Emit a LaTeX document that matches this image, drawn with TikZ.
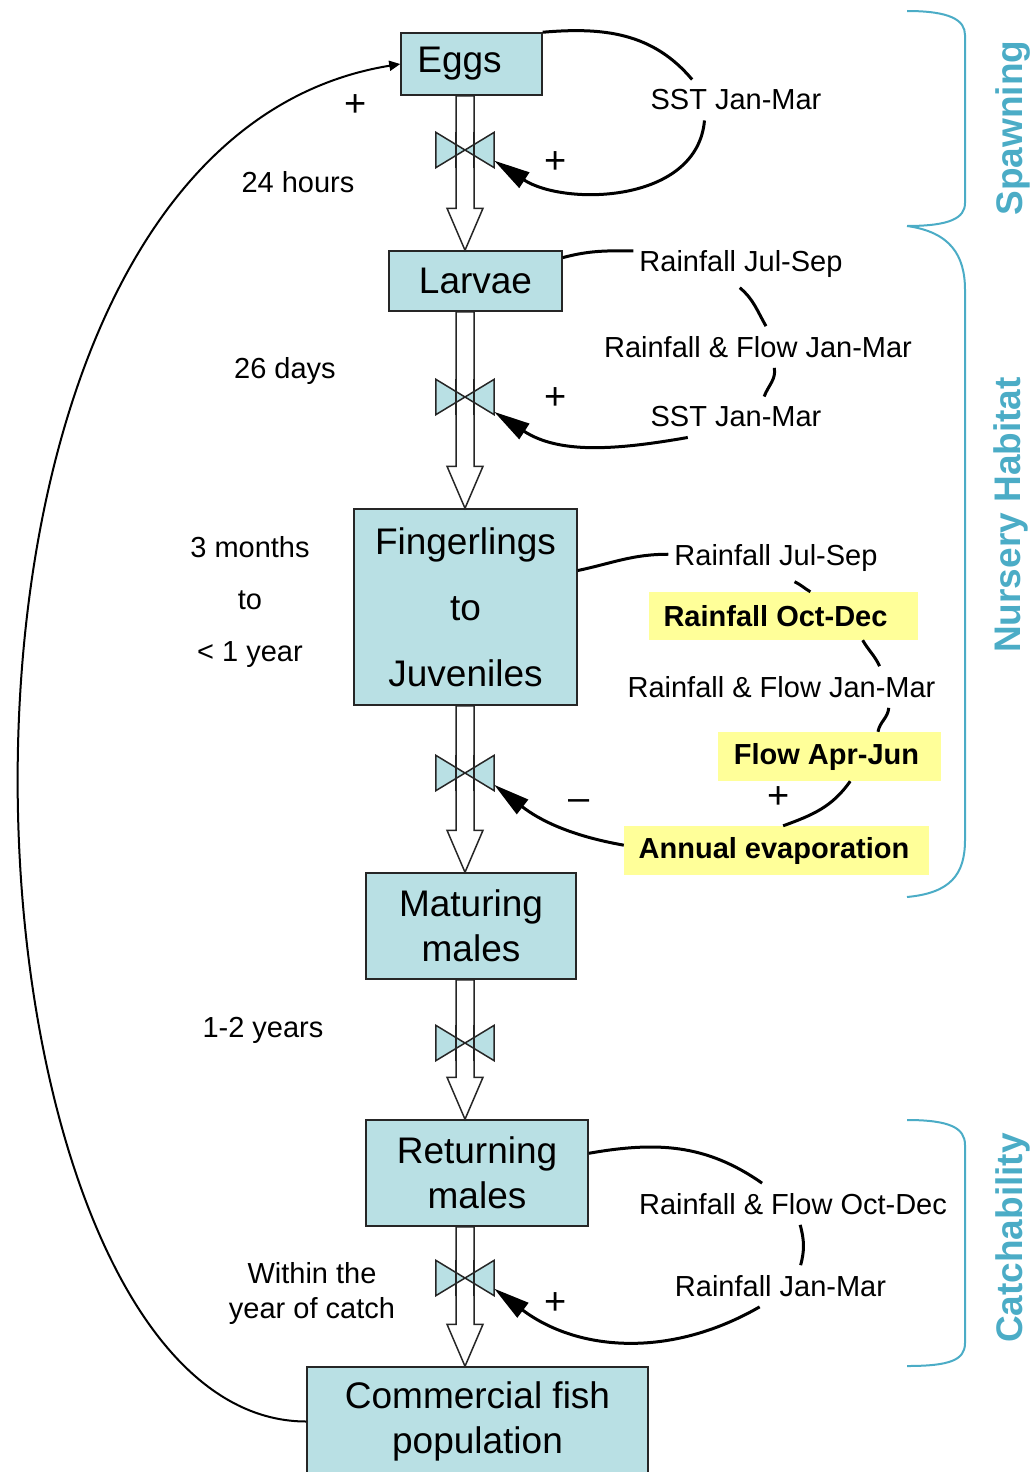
\documentclass[tikz,border=0pt]{standalone}
\usepackage{fontspec}
\setmainfont{Liberation Sans}
\usetikzlibrary{arrows.meta}
\definecolor{fishbox}{HTML}{B9E0E4}
\definecolor{hiyellow}{HTML}{FFFF99}
\definecolor{zoneteal}{HTML}{4BACC6}
\tikzset{
  stock/.style={draw=black!85, line width=1.5pt, fill=fishbox, inner sep=0pt, align=center, font=\fontsize{37}{45}\selectfont},
  vnode/.style={inner sep=0pt, minimum width=58pt, minimum height=35pt},
  pipe/.style={draw=black!85, line width=1.5pt, fill=white},
  valve/.style={draw=black!85, line width=1.5pt, fill=fishbox, line join=miter},
  lbl/.style={inner xsep=6pt, inner ysep=10pt, font=\fontsize{29}{35}\selectfont},
  sign/.style={inner sep=2pt, font=\fontsize{38}{40}\selectfont},
  hi/.style={fill=hiyellow, inner sep=0pt, font=\fontsize{29}{35}\selectfont\bfseries},
  zone/.style={text=zoneteal, rotate=90, font=\fontsize{37}{44}\selectfont\bfseries},
  brace/.style={draw=zoneteal, line width=2pt},
  link/.style={line width=3pt},
  infl/.style={link, -{Triangle[length=36pt, width=18pt]}},
  back/.style={line width=2pt, -{Triangle[length=11pt, width=10pt]}},
}
\begin{document}
\begin{tikzpicture}[x=1pt, y=1pt]
    \useasboundingbox (0,0) rectangle (1032,-1472);
    \node[stock, minimum width=141pt, minimum height=62pt] (eggs) at (471.5,-64) {\hspace*{-24pt}Eggs};
    \node[stock, minimum width=173pt, minimum height=60pt] (larvae) at (475.5,-281) {Larvae};
    \node[stock, minimum width=223pt, minimum height=196pt, font=\fontsize{37}{66}\selectfont] (fing) at (465.5,-607) {Fingerlings\\to\\Juveniles};
    \node[stock, minimum width=210pt, minimum height=106pt] (mature) at (471,-926) {Maturing\\males};
    \node[stock, minimum width=222pt, minimum height=106pt] (return) at (477,-1173) {Returning\\males};
    \node[stock, minimum width=341pt, minimum height=109pt] (catch) at (477.5,-1421.5) {Commercial fish\\population};
    \foreach \a/\b/\i/\vy in {eggs/larvae/1/150, larvae/fing/2/397, fing/mature/3/773, mature/return/4/1043, return/catch/5/1278}{
        \node[vnode] (v\i) at (465,-\vy) {};
        \draw[pipe] ([xshift=-9pt]v\i |- \a.south) -| ([xshift=9pt, yshift=42pt]v\i |- \b.north) -- ++(9,0) -- (v\i |- \b.north) -- ++(-18,42) -- ++(9,0) -- cycle;
        \draw[valve] (v\i.north west) -- (v\i.south east) -- (v\i.north east) -- (v\i.south west) -- cycle;
        \draw[pipe, fill=none] ([xshift=-9pt]v\i.north) -- ([xshift=-9pt]v\i.south) ([xshift=9pt]v\i.north) -- ([xshift=9pt]v\i.south);
    }
    \node[lbl] (sstA) at (736,-100) {SST Jan-Mar};
    \node[lbl] (rjsA) at (741,-264) {Rainfall Jul-Sep};
    \node[lbl] (rfjA) at (758,-347) {Rainfall \& Flow Jan-Mar};
    \node[lbl] (sstB) at (736,-417) {SST Jan-Mar};
    \node[lbl] (rjsB) at (776,-558) {Rainfall Jul-Sep};
    \node[hi, minimum width=269pt, minimum height=48pt] (rodB) at (783.5,-616) {\hspace*{-16pt}Rainfall Oct-Dec};
    \node[lbl] (rfjB) at (781.5,-687) {Rainfall \& Flow Jan-Mar};
    \node[hi, minimum width=223pt, minimum height=49pt] (fajB) at (829.5,-756.5) {\hspace*{-6pt}Flow Apr-Jun};
    \node[hi, minimum width=305pt, minimum height=49pt] (evapB) at (776.5,-850.5) {\hspace*{-5pt}Annual evaporation};
    \node[lbl] (rfoC) at (793,-1204) {Rainfall \& Flow Oct-Dec};
    \node[lbl] (rjmC) at (780.5,-1286) {Rainfall Jan-Mar};
    \node[lbl] (hrs) at (298,-182) {24 hours};
    \node[lbl] (days) at (285,-371) {26 days};
    \node[lbl, align=center, font=\fontsize{29}{52}\selectfont] (months) at (250,-602) {3 months\\to\\< 1 year};
    \node[lbl] (years) at (263,-1030) {1-2 years};
    \node[lbl, align=center] (within) at (312,-1293) {Within the\\year of catch};
    \node[sign] (pl1) at (356,-106) {+};
    \node[sign] (pl2) at (556,-163) {+};
    \node[sign] (pl3) at (556,-399) {+};
    \node[sign] (mi4) at (579,-805) {–};
    \node[sign] (pl4) at (779,-798) {+};
    \node[sign] (pl5) at (556,-1304) {+};
    \draw[link] (eggs.north east) to[out=5, in=130] (sstA.155);
    \draw[infl] (sstA.213) to[out=-95, in=-33] (v1.-20);
    \draw[link] (larvae.15) to[out=15, in=180] (rjsA.173);
    \draw[link] (rjsA.-93) to[out=-40, in=120] (rfjA.69);
    \draw[link] (rfjA.-52) to[out=-80, in=70] (sstB.36);
    \draw[infl] (sstB.203) to[out=-170, in=-33] (v2.-27);
    \draw[link] (fing.18) to[out=12, in=180] (rjsB.178);
    \draw[link] (rjsB.-52) to[out=-25, in=150] (rodB.42);
    \draw[link] (rodB.-17) to[out=-60, in=115] (rfjB.12);
    \draw[link] (rfjB.-11) to[out=-95, in=80] (fajB.27);
    \draw[link] (fajB.-50) to[out=-125, in=20] (evapB.75);
    \draw[infl] (evapB.178) to[out=170, in=-38] (v3.-22);
    \draw[link] (return.10) to[out=10, in=145] (rfoC.146);
    \draw[link] (rfoC.-71) to[out=-75, in=75] (rjmC.46);
    \draw[infl] (rjmC.225) to[out=-150, in=-37] (v5.-20);
    \draw[back] (catch.west) .. controls (-55,-1421) and (-130,-150) .. (eggs.west);
    \draw[brace] (907,-11) .. controls (950,-11) and (965,-20) .. (965,-35) -- (965,-203) .. controls (965,-218) and (950,-226) .. (907,-226);
    \draw[brace] (907,-226) .. controls (950,-232) and (965,-255) .. (965,-290) -- (965,-840) .. controls (965,-875) and (950,-893) .. (907,-897);
    \draw[brace] (907,-1120) .. controls (950,-1120) and (965,-1128) .. (965,-1145) -- (965,-1343) .. controls (965,-1360) and (950,-1366) .. (907,-1366);
    \node[zone] (spawn) at (1013,-128) {Spawning};
    \node[zone] (nursery) at (1011,-515) {Nursery Habitat};
    \node[zone] (catchab) at (1013,-1238) {Catchability};
\end{tikzpicture}
\end{document}
